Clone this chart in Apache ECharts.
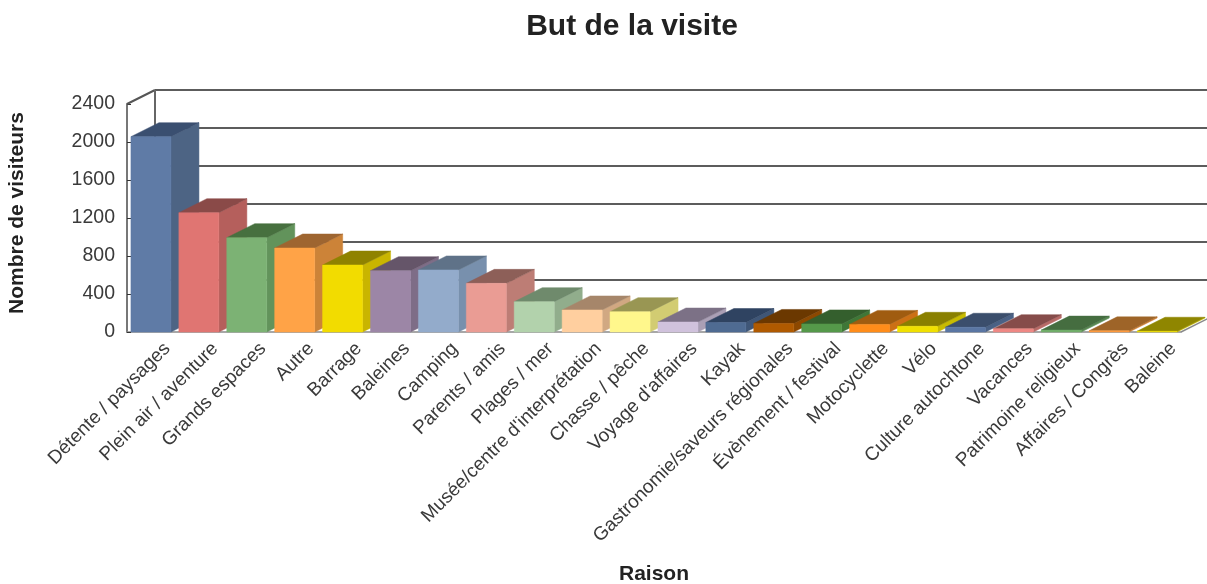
<!DOCTYPE html>
<html><head><meta charset="utf-8">
<script src="https://cdn.jsdelivr.net/npm/echarts@6/dist/echarts.min.js"></script>
<style>html,body{margin:0;padding:0;background:#fff}#c{width:1207px;height:584px;filter:blur(0.6px)}</style>
</head><body><div id="c"></div>
<script>
const categories = ["Détente / paysages","Plein air / aventure","Grands espaces","Autre","Barrage","Baleines","Camping","Parents / amis","Plages / mer","Musée/centre d'interprétation","Chasse / pêche","Voyage d'affaires","Kayak","Gastronomie/saveurs régionales","Évènement / festival","Motocyclette","Vélo","Culture autochtone","Vacances","Patrimoine religieux","Affaires / Congrès","Baleine"];
const visitors = [2056,1256,993,884,705,645,653,512,319,232,214,105,100,90,85,80,60,50,35,20,12,8];
const frontColors = ["#5f7ba6","#e07572","#7cb274","#ffa347","#f2dc00","#9c86a6","#93abcb","#ea9c94","#b2d2ac","#ffcf9f","#fff78c","#d0c2dc","#4f6b92","#b05a00","#55994a","#ff8c1a","#f0e000","#5a76a3","#ee8884","#71ad69","#ff9a3d","#f0e000"];
const sideColors = ["#4d6484","#b55f5c","#62935b","#cc8338","#c9b500","#7e6d87","#7890ad","#bd7d75","#91ad8c","#d1a882","#d2cc72","#aa9fb5","#3f5677","#8d4800","#3f7737","#cc7015","#c8bb00","#4a6185","#b76a66","#5a8b54","#cc7c30","#c8bb00"];
const topColors = ["#3a4f70","#8a4a48","#47703f","#9e6530","#8f8200","#655569","#5f7288","#8d5f58","#6f8a6c","#a6866a","#999653","#7c7186","#2f4361","#6b3800","#345f2d","#a05c10","#8a8000","#3b4e6c","#864c4a","#456d40","#9e6428","#8f8600"];
const yTicks = [0,400,800,1200,1600,2000,2400];
const DX = 28, DY = -14;

const chart = echarts.init(document.getElementById('c'));
const poly = (pts, fill) => ({type:'polygon', shape:{points:pts}, style:{fill, stroke:fill, lineWidth:0.5}});
const seg = (x1,y1,x2,y2,w,c) => ({type:'line', shape:{x1,y1,x2,y2}, style:{stroke:c, lineWidth:w}});
const family = '"Liberation Sans", Arial, sans-serif';
chart.setOption({
  animation:false,
  title:{text:'But de la visite', left:627, top:7, textAlign:'center', textStyle:{fontFamily:family,fontSize:30,fontWeight:'bold',color:'#222'}},
  grid:{left:127,right:26,top:104,bottom:252,outerBoundsMode:'none'},
  xAxis:{type:'category', data:categories, name:'Raison', nameLocation:'middle', nameGap:232,
    nameTextStyle:{fontFamily:family,fontSize:21,fontWeight:'bold',color:'#222'},
    axisLine:{lineStyle:{color:'#8a8a8a',width:1.5}}, axisTick:{show:false},
    axisLabel:{interval:0,rotate:45,margin:30,padding:[0,-23,0,0],hideOverlap:false,fontFamily:family,fontSize:19,color:'#3a3a3a'}},
  yAxis:{type:'value', min:0, max:2400, interval:400, name:'Nombre de visiteurs', nameLocation:'middle', nameGap:99,
    nameTextStyle:{fontFamily:family,fontSize:21,fontWeight:'bold',color:'#222',padding:[0,0,0,10]},
    splitLine:{show:false},
    axisLine:{show:true,lineStyle:{color:'#777',width:2}}, axisTick:{show:true,inside:true,length:4,lineStyle:{color:'#333'}},
    axisLabel:{margin:12,padding:[4,0,0,0],formatter:v=>String(v),fontFamily:family,fontSize:19.5,color:'#3a3a3a'}},
  series:[
    {type:'custom', coordinateSystem:'cartesian2d', silent:true, z:1,
      data:yTicks.map(v=>[0,v]),
      renderItem(params, api){
        const v = api.value(1);
        const p = api.coord([0,v]);
        const x0 = p[0]-api.size([1,0])[0]/2;
        const kids = [];
        const right = x0 + api.size([1,0])[0]*22 + DX;
        if (v>0) kids.push(seg(x0+DX,p[1]+DY,right,p[1]+DY,2,'#5c5c5c'));
        if (v===2400){
          const b = api.coord([0,0]);
          kids.push(seg(x0,p[1],x0+DX,p[1]+DY,2,'#555'));
          kids.push(seg(x0+DX,p[1]+DY,x0+DX,b[1]+DY,2,'#666'));
        }
        if (v===0){
          const front = x0 + api.size([1,0])[0]*22;
          kids.push(seg(front,p[1],front+DX,p[1]+DY,1.5,'#8a8a8a'));
        }
        return {type:'group',children:kids};
      }},
    {type:'custom', coordinateSystem:'cartesian2d', silent:true, z:2,
      data:visitors.map((v,i)=>[i,v]),
      renderItem(params, api){
        const i = api.value(0);
        const w = api.size([1,0])[0]*0.835;
        const t = api.coord([i,api.value(1)]);
        const b = api.coord([i,0]);
        const l = t[0]-w/2, r = t[0]+w/2;
        return {type:'group',children:[
          poly([[r,t[1]],[r+DX,t[1]+DY],[r+DX,b[1]+DY],[r,b[1]]], sideColors[i]),
          poly([[l,t[1]],[l+DX,t[1]+DY],[r+DX,t[1]+DY],[r,t[1]]], topColors[i]),
          poly([[l,t[1]],[r,t[1]],[r,b[1]],[l,b[1]]], frontColors[i])
        ]};
      }}
  ]
});
</script></body></html>
